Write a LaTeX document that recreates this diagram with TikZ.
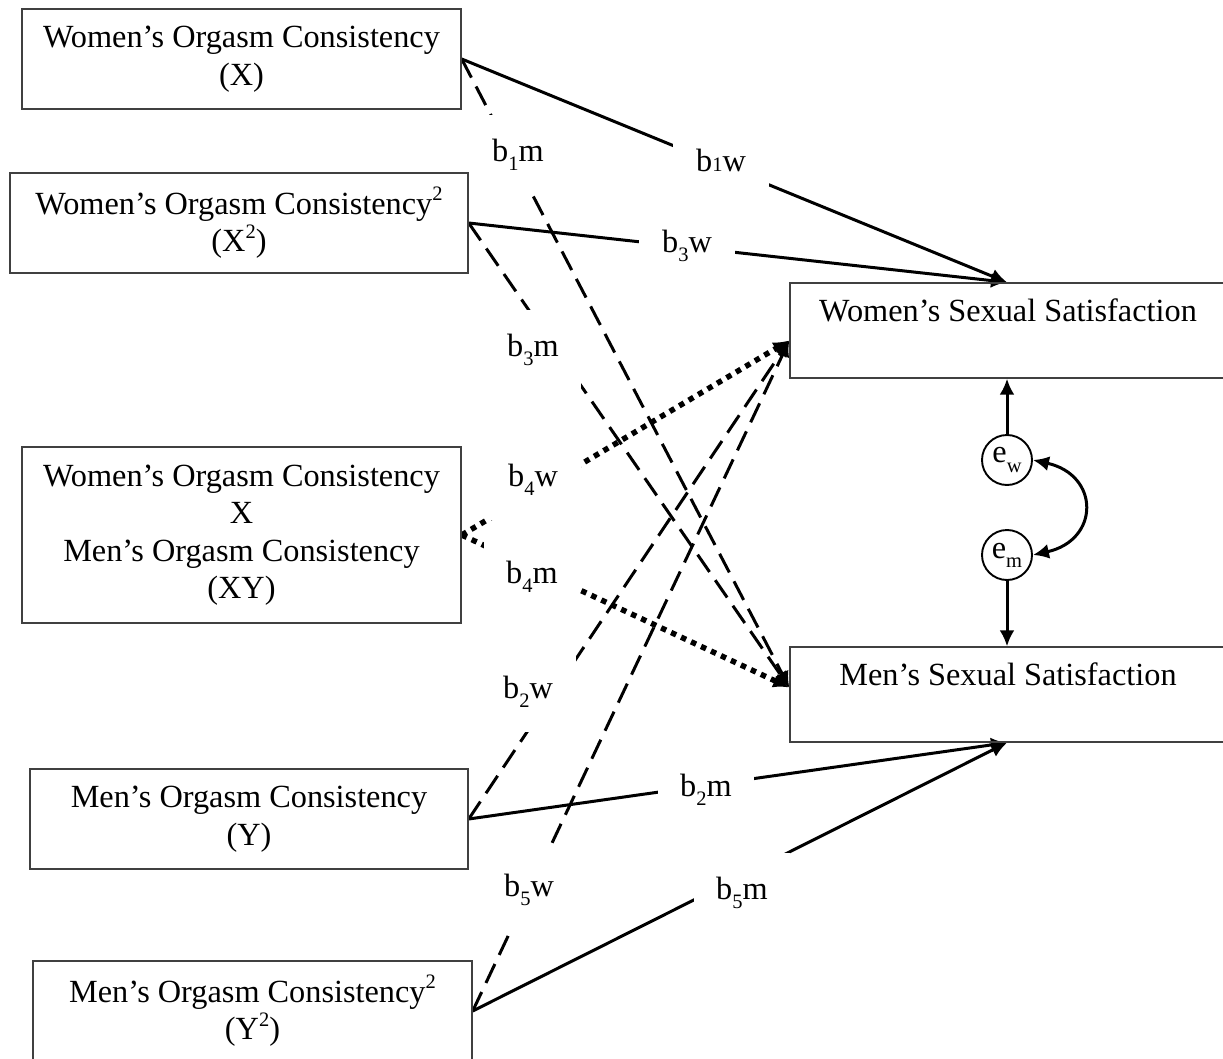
\documentclass[tikz,border=0pt]{standalone}
\usepackage{fontspec}
\setmainfont{Liberation Serif}
\usetikzlibrary{arrows.meta}
\pgfdeclarelayer{bg}
\pgfsetlayers{bg,main}
\newcommand\mysub[1]{\raisebox{-0.28em}{\fontsize{20.5}{20}\selectfont #1}}
\newcommand\mysup[1]{\raisebox{0.42em}{\fontsize{20.5}{20}\selectfont #1}}
\begin{document}
\begin{tikzpicture}[x=1pt,y=-1pt,
  >={Latex[length=16pt,width=15pt]},
  box/.style={draw=black!75, line width=1.4pt, align=center, inner sep=0pt, font=\fontsize{32.3}{37.5}\selectfont},
  txt/.style={inner sep=0pt, font=\fontsize{32.3}{37.5}\selectfont},
  lab/.style={fill=white, minimum width=96pt, minimum height=80pt, inner sep=0pt, font=\fontsize{32.3}{37.5}\selectfont},
  con/.style={line width=3pt, ->},
  dsh/.style={con, dash pattern=on 21pt off 10pt},
  dot/.style={con, line width=5.5pt, dash pattern=on 5.5pt off 5.5pt},
  err/.style={circle, draw, line width=1.9pt, minimum size=50pt, inner sep=0pt, font=\fontsize{32.3}{37.5}\selectfont}]
\useasboundingbox (0,0) rectangle (1223,1059);
% source boxes
\node[box, minimum width=439pt, minimum height=100pt] (x1) at (241.5,59) {Women’s Orgasm Consistency\\(X)};
\node[box, minimum width=458pt, minimum height=100pt] (x2) at (239,223) {Women’s Orgasm Consistency\mysup{2}\\(X\mysup{2})};
\node[box, minimum width=439pt, minimum height=176pt] (xy) at (241.5,535) {Women’s Orgasm Consistency\\X\\Men’s Orgasm Consistency\\(XY)};
\node[box, minimum width=438pt, minimum height=100pt] (y1) at (249,819) {Men’s Orgasm Consistency\\(Y)};
\node[box, minimum width=439pt, minimum height=100pt] (y2) at (252.5,1011) {Men’s Orgasm Consistency\mysup{2}\\(Y\mysup{2})};
% outcome boxes
\node[box, minimum width=434pt, minimum height=95pt] (wss) at (1007,330.5) {};
\node[txt, anchor=base] (wsst) at (1008,321) {Women’s Sexual Satisfaction};
\node[box, minimum width=434pt, minimum height=95pt] (mss) at (1007,694.5) {};
\node[txt, anchor=base] (msst) at (1008,685) {Men’s Sexual Satisfaction};
% residuals
\node[err] (ew) at (1007,460) {e\mysub{w}};
\node[err] (em) at (1007,555) {e\mysub{m}};
\draw[con] (ew.north) -- (wss.south);
\draw[con] (em.south) -- (mss.north);
\draw[con, <->] (ew.east) .. controls (1100,475) and (1100,540) .. (em.east);
\coordinate (wssin) at ([yshift=-10pt]wss.west);
\coordinate (mssin) at ([yshift=7pt]mss.west);
\begin{pgfonlayer}{bg}
\draw[con] (x1.east) -- (wss.north);
\draw[con] (x2.east) -- (wss.north);
\draw[dsh] (x1.east) -- (mssin);
\draw[dsh] (x2.east) -- (mssin);
\draw[dot] (xy.east) -- (wssin);
\draw[dot] (xy.east) -- (mssin);
\draw[dsh] (y1.east) -- (wssin);
\draw[dsh] (y2.east) -- (wssin);
\draw[con] (y1.east) -- (mss.south);
\draw[con] (y2.east) -- (mss.south);
% path labels
\node[lab] (lb1m) at (518,155) {b\mysub{1}m};
\node[lab] (lb1w) at (721,160) {b{\fontsize{20.5}{20}\selectfont 1}w};
\node[lab] (lb3w) at (687,246) {b\mysub{3}w};
\node[lab] (lb3m) at (533,350) {b\mysub{3}m};
\node[lab] (lb4w) at (533,480) {b\mysub{4}w};
\node[lab] (lb4m) at (532,577) {b\mysub{4}m};
\node[lab] (lb2w) at (528,692) {b\mysub{2}w};
\node[lab] (lb2m) at (706,790) {b\mysub{2}m};
\node[lab] (lb5w) at (529,890) {b\mysub{5}w};
\node[lab] (lb5m) at (742,893) {b\mysub{5}m};
\end{pgfonlayer}
\end{tikzpicture}
\end{document}
